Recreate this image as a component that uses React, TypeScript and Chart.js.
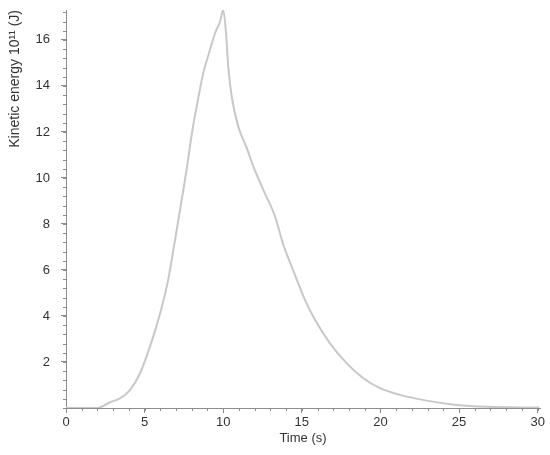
import React, { useEffect, useRef } from "react";
import { Chart, registerables } from "chart.js";

Chart.register(...registerables);

const timeS = [0, 2.0, 2.8, 3.43, 4.07, 4.7, 5.34, 5.98, 6.5, 6.72, 7.25, 7.68, 8.0, 8.31, 8.73, 9.16, 9.48, 9.8, 10.0, 10.18, 10.32, 10.54, 10.96, 11.5, 11.92, 12.55, 13.3, 13.82, 14.36, 15.2, 15.73, 16.79, 17.86, 18.91, 19.97, 21.25, 22.94, 24.85, 26.76, 30.1];
const energy = [0, 0, 0.25, 0.42, 0.78, 1.5, 2.67, 4.1, 5.57, 6.43, 8.6, 10.4, 11.9, 13.1, 14.55, 15.57, 16.29, 16.8, 17.3, 16.29, 14.84, 13.54, 12.23, 11.3, 10.49, 9.48, 8.32, 7.1, 6.14, 4.7, 3.97, 2.81, 1.94, 1.29, 0.86, 0.57, 0.32, 0.13, 0.05, 0.02];
const xTicks = [0, 5, 10, 15, 20, 25, 30];
const yTicks = [2, 4, 6, 8, 10, 12, 14, 16];
const xMinorStep = 1;
const yMinorStep = 0.4;

const AXIS_COLOR = "#8c8c8c";
const TEXT_COLOR = "#333333";
const FONT = "Liberation Sans, Arial, sans-serif";

const minorTicks = {
  id: "minorTicks",
  afterDraw(chart: any) {
    const { ctx, chartArea } = chart;
    const xs = chart.scales.x;
    const ys = chart.scales.y;
    ctx.save();
    ctx.strokeStyle = AXIS_COLOR;
    ctx.lineWidth = 1;
    ctx.beginPath();
    for (let i = 0; i * xMinorStep <= xs.max + 1e-9; i++) {
      const v = i * xMinorStep;
      const px = Math.round(xs.getPixelForValue(v)) + 0.5;
      ctx.moveTo(px, chartArea.bottom);
      ctx.lineTo(px, chartArea.bottom + 3);
    }
    for (let i = 0; i * yMinorStep <= ys.max + 1e-9; i++) {
      const v = i * yMinorStep;
      const py = Math.round(ys.getPixelForValue(v)) + 0.5;
      ctx.moveTo(chartArea.left, py);
      ctx.lineTo(chartArea.left - 3, py);
    }
    ctx.stroke();
    ctx.restore();
  },
};

export default function App() {
  const ref = useRef<HTMLCanvasElement>(null);
  useEffect(() => {
    document.body.style.margin = "0";
    const canvas = ref.current!;
    const chart = new Chart(canvas, {
      type: "line",
      data: {
        datasets: [
          {
            data: timeS.map((t, i) => ({ x: t, y: energy[i] })),
            borderColor: "#c8c8c8",
            borderWidth: 2,
            pointRadius: 0,
            cubicInterpolationMode: "monotone",
            fill: false,
          },
        ],
      },
      options: {
        animation: false,
        responsive: false,
        maintainAspectRatio: false,
        layout: { padding: { left: 0, right: 10, top: 10, bottom: 0 } },
        plugins: { legend: { display: false }, tooltip: { enabled: false } },
        scales: {
          x: {
            type: "linear",
            min: 0,
            max: 30.15,
            afterBuildTicks: (s: any) => {
              s.ticks = xTicks.map((v) => ({ value: v }));
            },
            afterFit: (s: any) => {
              s.height = 47;
              s.paddingLeft = 0;
              s.paddingRight = 0;
            },
            ticks: {
              color: TEXT_COLOR,
              font: { family: FONT, size: 13 },
              padding: 2,
              maxRotation: 0,
            },
            grid: { drawOnChartArea: false, drawTicks: true, tickLength: 5, color: AXIS_COLOR },
            border: { display: true, color: AXIS_COLOR },
            title: {
              display: true,
              text: "Time (s)",
              color: TEXT_COLOR,
              font: { family: FONT, size: 13 },
              padding: { top: 0, bottom: 9 },
            },
          },
          y: {
            type: "linear",
            min: 0,
            max: 17.3,
            afterBuildTicks: (s: any) => {
              s.ticks = yTicks.map((v) => ({ value: v }));
            },
            afterFit: (s: any) => {
              s.width = 66;
              s.paddingTop = 0;
              s.paddingBottom = 0;
            },
            ticks: {
              color: TEXT_COLOR,
              font: { family: FONT, size: 13 },
              padding: 11,
            },
            grid: { drawOnChartArea: false, drawTicks: true, tickLength: 5, color: AXIS_COLOR },
            border: { display: true, color: AXIS_COLOR },
            title: {
              display: true,
              text: "Kinetic energy 10¹¹ (J)",
              align: "end",
              color: TEXT_COLOR,
              font: { family: FONT, size: 14 },
              padding: { top: 7, bottom: 0 },
            },
          },
        },
      },
      plugins: [minorTicks],
    } as any);
    return () => chart.destroy();
  }, []);
  return (
    <div style={{ width: 550, height: 455, background: "#fff" }}>
      <canvas ref={ref} width={550} height={455} />
    </div>
  );
}
